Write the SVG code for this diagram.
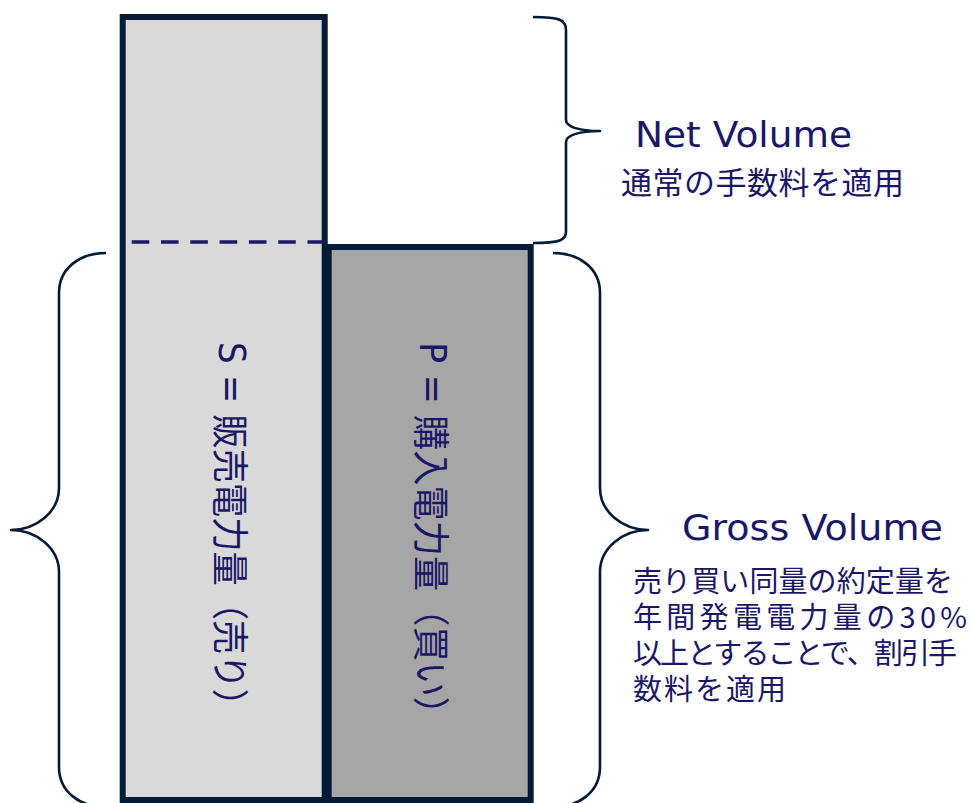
<svg xmlns="http://www.w3.org/2000/svg" width="972" height="803" viewBox="0 0 972 803">
  <style>
    .bar { stroke: #021B37; stroke-width: 6; }
    .brace { fill: none; stroke: #021B37; stroke-width: 2.6; stroke-linejoin: round; }
    .lat { font-family: "DejaVu Sans", "Noto Sans CJK JP", sans-serif; fill: #1A1866; }
    .jp { font-family: "Noto Sans CJK JP", sans-serif; fill: #1A1866; }
    .vl { font-family: "DejaVu Sans", "Noto Sans CJK JP", sans-serif; }
  </style>
  <rect width="972" height="803" fill="#FFFFFF"/>
  <g id="bar-S">
    <rect class="bar" x="122.7" y="17" width="202" height="783" fill="#D9D9D9"/>
    <text class="jp" font-size="37" transform="translate(232,532.5) rotate(90)" text-anchor="middle" dominant-baseline="central" textLength="381" lengthAdjust="spacingAndGlyphs"><tspan class="vl">S = </tspan>販売電力量（売り）</text>
  </g>
  <g id="bar-P">
    <rect class="bar" x="328.7" y="247" width="202" height="553" fill="#A6A6A6"/>
    <text class="jp" font-size="37" transform="translate(432.5,537) rotate(90)" text-anchor="middle" dominant-baseline="central" textLength="390" lengthAdjust="spacingAndGlyphs"><tspan class="vl">P = </tspan>購入電力量（買い）</text>
  </g>
  <g id="connectors">
    <line x1="131.7" y1="242" x2="325" y2="242" stroke="#1F1868" stroke-width="3.3" stroke-dasharray="17.6 11.7"/>
  </g>
  <g id="net-volume">
    <path class="brace" d="M533,17 C560,17 566,20 566,30 L566,120 C566,127 580,131 600,131 C580,131 566,135 566,142 L566,232 C566,240 560,243 533,243"/>
    <text class="lat" x="635" y="147" font-size="35" textLength="217" lengthAdjust="spacingAndGlyphs">Net Volume</text>
    <text class="jp" x="621" y="194" font-size="31" textLength="283" lengthAdjust="spacing">通常の手数料を適用</text>
  </g>
  <g id="gross-volume-left">
    <path class="brace" d="M106,253 C80,253 59,268 59,293 L59,488 C59,512 36,530 11,530 C36,530 59,548 59,572 L59,767 C59,792 80,807 106,807"/>
  </g>
  <g id="gross-volume">
    <path class="brace" d="M553,253 C579,253 600,268 600,293 L600,488 C600,512 623,530 648,530 C623,530 600,548 600,572 L600,767 C600,792 579,807 553,807"/>
    <text class="lat" x="682" y="540" font-size="35" textLength="261" lengthAdjust="spacingAndGlyphs">Gross Volume</text>
    <text class="jp" font-size="29">
      <tspan x="633" y="592" textLength="320" lengthAdjust="spacing">売り買い同量の約定量を</tspan>
      <tspan x="633" y="628" textLength="334" lengthAdjust="spacing">年間発電電力量の30%</tspan>
      <tspan x="633" y="664" textLength="324" lengthAdjust="spacing">以上とすることで、割引手</tspan>
      <tspan x="633" y="700" textLength="153" lengthAdjust="spacing">数料を適用</tspan>
    </text>
  </g>
</svg>
